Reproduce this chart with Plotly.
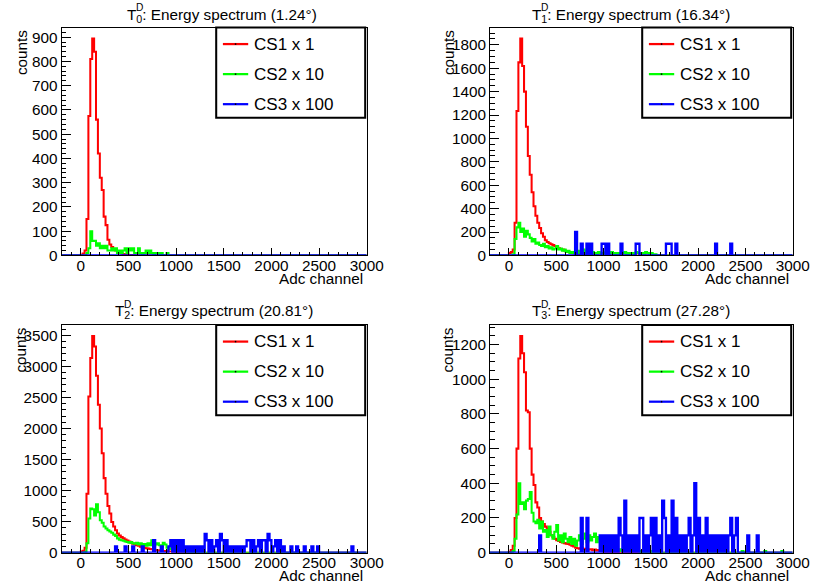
import plotly.graph_objects as go

REF_W, REF_H = 813, 583          # geometry below is measured in these pixels
FIG_W, FIG_H = 830, 592          # rendered page size (photo is scaled to 813x583)
SC = FIG_W / REF_W

BIN_W = 20
X_MIN, X_MAX = -200, 3000

SERIES_NAMES = ["CS1 x 1", "CS2 x 10", "CS3 x 100"]
SERIES_COLORS = ["#ff0000", "#00ff00", "#0000ff"]

DETECTORS = ["0", "1", "2", "3"]
ANGLES = ["1.24", "16.34", "20.81", "27.28"]
X_TICKS = [0, 500, 1000, 1500, 2000, 2500, 3000]

# dense counts: consecutive 20-channel bins starting at channel 0
RED_P1 = [3, 8, 20, 150, 575, 810, 895, 840, 560, 420, 320, 270, 160, 125, 65, 45, 35, 25, 20, 14,
          10, 8, 6, 4, 3, 2, 2, 1]
GREEN_P1 = [0, 0, 0, 10, 30, 100, 60, 60, 40, 50, 30, 40, 30, 40, 20, 20, 30, 20, 30, 10,
            20, 10, 20, 30, 10, 30, 20, 30, 10, 10, 30, 10, 0, 10, 20, 10, 20, 10, 0, 10,
            10, 0, 10, 0, 0, 10]
BLUE_P1 = []

RED_P2 = [20, 30, 50, 280, 1235, 1650, 1855, 1620, 1400, 1100, 850, 690, 540, 420, 340, 280, 235, 190,
          160, 130, 115, 105, 95, 88, 80, 72, 62, 55, 50, 42, 38, 32, 26, 22, 18, 15, 12, 10, 8, 6,
          5, 4, 3, 3, 2, 2]
GREEN_P2 = [0, 0, 10, 140, 240, 280, 200, 230, 160, 210, 180, 150, 120, 140, 100, 110, 90, 80, 100, 70,
            80, 60, 70, 50, 60, 80, 50, 60, 40, 50, 30, 40, 20, 30, 20, 30, 40, 20, 30, 50,
            20, 40, 30, 20, 30, 20, 10, 30, 20, 10, 20, 30, 10, 20, 30, 10, 20, 10, 20, 10,
            20, 30, 10, 20, 10, 20, 10, 30, 20, 10, 20, 10, 30, 20, 10, 20, 10, 10]
# sparse counts: (bin low edge, content)
BLUE_P2 = [(700, 200), (760, 100), (820, 100), (860, 100), (980, 100), (1000, 100), (1040, 100),
           (1180, 100), (1340, 100), (1360, 100), (1660, 100), (1680, 100), (1700, 100), (1760, 100),
           (2180, 100), (2340, 100)]

RED_P3 = [20, 30, 80, 950, 2515, 3134, 3490, 3320, 2850, 2380, 2000, 1600, 1200, 950, 750, 630, 495, 420,
          360, 310, 275, 250, 230, 210, 195, 180, 160, 145, 135, 120, 110, 95, 88, 80, 72, 65, 58, 54,
          48, 44, 40, 36, 32, 28, 25, 22, 20, 18, 15, 13, 11, 10, 8, 7, 6, 5, 4, 3, 3, 2, 2]
GREEN_P3 = [0, 0, 10, 150, 550, 710, 700, 600, 780, 650, 520, 480, 420, 390, 360, 340, 320, 290, 270, 230,
            210, 200, 190, 180, 170, 160, 170, 150, 145, 160, 130, 150, 120, 140, 110, 150, 120, 200, 110, 130,
            150, 120, 100, 160, 130, 80, 60, 70, 40, 50, 30, 40, 30, 20, 30, 20, 30, 10, 20, 10]
BLUE_P3 = [(360, 100), (460, 100), (540, 100), (640, 100), (760, 200), (840, 100), (920, 100), (940, 200),
           (980, 200), (1020, 200), (1060, 200), (1100, 100), (1140, 100), (1180, 100), (1220, 100),
           (1260, 100), (1300, 300), (1320, 200), (1360, 200), (1400, 100), (1420, 200), (1460, 300),
           (1480, 200), (1520, 200), (1560, 100), (1600, 100), (1640, 100), (1680, 100), (1720, 100),
           (1740, 200), (1760, 200), (1800, 200), (1840, 100), (1860, 200), (1900, 200), (1920, 200),
           (1960, 300), (1980, 200), (2020, 100), (2040, 200), (2080, 200), (2120, 100), (2200, 100),
           (2260, 100), (2340, 100), (2420, 100), (2480, 100), (2840, 100)]

RED_P4 = [5, 15, 40, 200, 600, 1120, 1250, 1150, 1040, 820, 810, 600, 450, 390, 290, 260, 200, 180,
          165, 150, 140, 120, 100, 90, 80, 72, 68, 62, 58, 55, 52, 50, 45, 40, 35, 28, 25, 22, 28, 20,
          22, 15, 18, 20, 14, 18, 12, 15, 10, 8, 5, 3, 2]
GREEN_P4 = [0, 0, 10, 80, 220, 400, 280, 290, 250, 300, 310, 350, 230, 180, 170, 190, 140, 180, 120, 130,
            90, 150, 100, 80, 120, 160, 70, 100, 60, 110, 80, 60, 90, 50, 80, 40, 70, 100, 50, 80,
            110, 60, 100, 70, 90, 110, 60, 90, 80, 40, 60, 30, 20, 40, 20, 30, 10, 20, 10, 20,
            10, 30, 20, 10, 10, 20, 10, 20, 10, 0, 10, 0, 20, 0, 10]
GREEN_P4_TAIL = [(2460, 10), (2700, 10), (2880, 10)]
BLUE_P4 = [(320, 100), (760, 200), (820, 200), (960, 100), (1000, 100), (1040, 100), (1080, 100),
           (1120, 100), (1160, 200), (1180, 100), (1220, 300), (1260, 100), (1300, 100), (1340, 100),
           (1380, 200), (1400, 200), (1440, 100), (1480, 100), (1500, 200), (1540, 200), (1580, 100),
           (1620, 300), (1640, 200), (1680, 100), (1720, 300), (1760, 200), (1800, 100), (1840, 100),
           (1880, 100), (1900, 200), (1940, 100), (1960, 400), (2000, 200), (2040, 100), (2080, 200),
           (2120, 100), (2160, 100), (2200, 100), (2240, 100), (2280, 100), (2320, 100), (2340, 200),
           (2380, 100), (2400, 200), (2520, 100), (2620, 100)]

PANELS = [
    dict(red=RED_P1, green=GREEN_P1, green_tail=[], blue=BLUE_P1, ydtick=100, yminor=20),
    dict(red=RED_P2, green=GREEN_P2, green_tail=[], blue=BLUE_P2, ydtick=200, yminor=50),
    dict(red=RED_P3, green=GREEN_P3, green_tail=[], blue=BLUE_P3, ydtick=500, yminor=100),
    dict(red=RED_P4, green=GREEN_P4, green_tail=GREEN_P4_TAIL, blue=BLUE_P4, ydtick=200, yminor=50),
]

# ---------------- layout geometry (reference pixels) ----------------
COL_X = [(61.7, 366.7), (490.0, 792.7)]
ROW_Y = [(27.5, 255.0), (324.5, 551.7)]
TITLE_LEFT = [125, 530, 113, 530]
TITLE_Y = [15, 311]
YTITLE_X = [21, 448]
FONT = "Liberation Sans"


def px(x):
    return x / REF_W


def py(y):
    return 1 - y / REF_H


def fs(size):
    return round(size * SC, 2)


def full_counts(dense, sparse):
    n = (X_MAX - X_MIN) // BIN_W
    c = [0] * n
    off = (0 - X_MIN) // BIN_W
    for i, v in enumerate(dense):
        c[off + i] = v
    for x, v in sparse:
        c[(x - X_MIN) // BIN_W] = v
    return c


edges = list(range(X_MIN, X_MAX + 1, BIN_W))
LINE_W = [2.0, 2.0, 2.3]

fig = go.Figure()
shapes = []
annotations = []
layout = {}

for k, p in enumerate(PANELS):
    r, c = divmod(k, 2)
    xname = "x" if k == 0 else f"x{k + 1}"
    yname = "y" if k == 0 else f"y{k + 1}"
    series = [full_counts(p["red"], []),
              full_counts(p["green"], p["green_tail"]),
              full_counts([], p["blue"])]
    for s, counts in enumerate(series):
        fig.add_trace(go.Scatter(
            x=edges, y=counts + [counts[-1]], mode="lines",
            line=dict(shape="hv", color=SERIES_COLORS[s], width=LINE_W[s] * SC, simplify=False),
            name=SERIES_NAMES[s], showlegend=False, hoverinfo="skip",
            xaxis=xname, yaxis=yname))

    ymax = 1.05 * max(series[0])
    x0, x1 = COL_X[c]
    y0, y1 = ROW_Y[r]
    axis_common = dict(showgrid=False, zeroline=False, showline=True, linecolor="black",
                       linewidth=1, mirror=True, ticks="inside", tickcolor="black",
                       tickfont=dict(family=FONT, size=fs(15), color="black"))
    layout["xaxis" if k == 0 else f"xaxis{k + 1}"] = dict(
        axis_common, domain=[px(x0), px(x1)], anchor=yname, range=[X_MIN, X_MAX],
        tickmode="array", tickvals=X_TICKS, ticklen=7 * SC, ticklabelstandoff=-4,
        minor=dict(ticks="inside", ticklen=3.5 * SC, dtick=100, tick0=0, tickcolor="black"))
    layout["yaxis" if k == 0 else f"yaxis{k + 1}"] = dict(
        axis_common, domain=[py(y1), py(y0)], anchor=xname, range=[0, ymax],
        tick0=0, dtick=p["ydtick"], ticklen=9 * SC,
        minor=dict(ticks="inside", ticklen=4.5 * SC, dtick=p["yminor"], tick0=0, tickcolor="black"))

    # title
    annotations.append(dict(
        text=f"T<sub>{DETECTORS[k]}</sub>: Energy spectrum ({ANGLES[k]}°)",
        x=px(TITLE_LEFT[k]), y=py(TITLE_Y[r]), xref="paper", yref="paper",
        xanchor="left", yanchor="middle", showarrow=False,
        font=dict(family=FONT, size=fs(15), color="black")))
    annotations.append(dict(
        text="D", x=px(TITLE_LEFT[k] + 9.3), y=py(TITLE_Y[r] - 7.5), xref="paper", yref="paper",
        xanchor="left", yanchor="middle", showarrow=False,
        font=dict(family=FONT, size=fs(10), color="black")))
    # axis titles
    annotations.append(dict(
        text="Adc channel", x=px(x1 - 2), y=py(y1 + 23), xref="paper", yref="paper",
        xanchor="right", yanchor="middle", showarrow=False,
        font=dict(family=FONT, size=fs(15), color="black")))
    annotations.append(dict(
        text="counts", x=px(YTITLE_X[c]), y=py(y0 + 1), xref="paper", yref="paper",
        xanchor="center", yanchor="top", textangle=-90, showarrow=False,
        font=dict(family=FONT, size=fs(15), color="black")))

    # legend box
    bl, br = x1 - 150.5, x1 - 1.5
    bt, bb = y0, y0 + 90
    shapes.append(dict(type="rect", xref="paper", yref="paper",
                       x0=px(bl), x1=px(br), y0=py(bb), y1=py(bt),
                       line=dict(color="black", width=2.0 * SC), fillcolor="white", layer="above"))
    for s in range(3):
        ly = bt + 16.5 + 30 * s
        shapes.append(dict(type="line", xref="paper", yref="paper",
                           x0=px(bl + 6.7), x1=px(bl + 32), y0=py(ly), y1=py(ly),
                           line=dict(color=SERIES_COLORS[s], width=2.2 * SC), layer="above"))
        shapes.append(dict(type="rect", xref="paper", yref="paper",
                           x0=px(bl + 18.6), x1=px(bl + 20.1), y0=py(ly + 0.75), y1=py(ly - 0.75),
                           line=dict(width=0), fillcolor="black", layer="above"))
        annotations.append(dict(
            text=SERIES_NAMES[s], x=px(bl + 36), y=py(ly), xref="paper", yref="paper",
            xanchor="left", yanchor="middle", showarrow=False,
            font=dict(family=FONT, size=fs(16.7), color="black")))

fig.update_layout(
    width=FIG_W, height=FIG_H, autosize=False,
    margin=dict(l=0, r=0, t=0, b=0),
    paper_bgcolor="white", plot_bgcolor="white",
    shapes=shapes, annotations=annotations,
    **layout)

fig.write_html(
    "out.html",
    config={"displayModeBar": False, "responsive": False, "staticPlot": True},
    post_script=("document.documentElement.style.margin='0';"
                 "document.documentElement.style.overflow='hidden';"
                 "document.body.style.margin='0';"
                 "document.body.style.overflow='hidden';"))
